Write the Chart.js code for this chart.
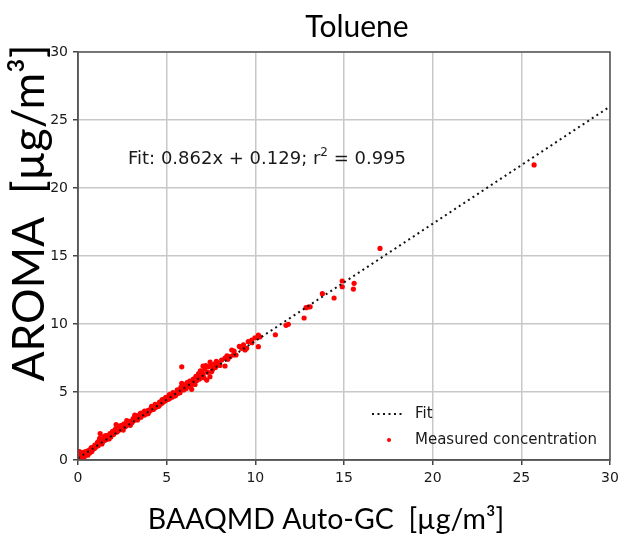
<!DOCTYPE html>
<html>
<head>
<meta charset="utf-8">
<script src="https://cdn.jsdelivr.net/npm/chart.js@4.4.1/dist/chart.umd.min.js"></script>
<style>
  html, body { margin: 0; padding: 0; background: #fff; }
  #wrap { width: 620px; height: 535px; }
</style>
</head>
<body>
<div id="wrap"><canvas id="c" width="620" height="535"></canvas></div>
<script>
// ── Data ──
const measX = [
  0.02, 0.05, 0.08, 0.10, 0.12, 0.15, 0.18, 0.22, 0.25, 0.28, 0.30, 0.35, 0.38, 0.42, 0.45, 0.50, 0.55, 0.58, 0.62, 0.66, 0.70, 0.74, 0.78, 0.82, 0.86, 0.90, 0.94, 0.98,
  1.02, 1.06, 1.10, 1.14, 1.18, 1.22, 1.25, 1.28, 1.32, 1.36, 1.40, 1.45, 1.50, 1.55, 1.60, 1.65, 1.70, 1.75, 1.80, 1.85, 1.90, 1.95, 2.00,
  2.05, 2.10, 2.15, 2.20, 2.25, 2.30, 2.35, 2.40, 2.45, 2.50, 2.55, 2.60, 2.65, 2.70, 2.75, 2.80, 2.85, 2.90, 2.95, 3.00,
  3.05, 3.10, 3.15, 3.20, 3.25, 3.30, 3.35, 3.40, 3.45, 3.50, 3.55, 3.60, 3.65, 3.70, 3.75, 3.80, 3.85, 3.90, 3.95, 4.00,
  4.05, 4.10, 4.15, 4.20, 4.25, 4.30, 4.35, 4.40, 4.45, 4.50, 4.55, 4.60, 4.65, 4.70, 4.75, 4.80, 4.85, 4.90, 4.95, 5.00, 5.05, 5.10, 5.15, 5.20, 5.25, 5.30, 5.40, 5.50, 5.55, 5.65,
  5.70, 5.75, 5.85, 5.85, 5.85, 5.95, 6.05, 6.10, 6.20, 6.25, 6.35, 6.41, 6.45, 6.55, 6.60, 6.70, 6.75, 6.85, 6.95, 7.05, 7.10,
  7.05, 7.20, 7.26, 7.30, 7.44, 7.45, 7.54, 7.60, 7.70, 7.75, 7.85, 7.91, 8.00, 8.29, 8.29, 8.45, 8.57, 8.67, 8.76, 8.91, 9.23, 9.33, 9.42, 9.51, 9.80, 9.80, 9.98, 10.17, 10.17, 10.25,
  11.13, 11.73, 11.86, 12.75, 12.86, 12.99, 13.09, 13.78, 14.44, 14.90, 14.90, 15.53, 15.57, 17.03, 25.72,
  0.15, 0.35, 0.55, 0.75, 0.95, 1.15, 1.35, 1.55, 1.75, 1.95, 2.15, 2.35, 2.55, 2.75, 2.95, 3.15, 3.35, 3.55, 3.75, 3.95,
  4.15, 4.35, 4.55, 4.75, 4.95, 5.15, 5.35, 5.45, 5.60, 5.80, 6.00, 6.15, 6.30, 6.50, 6.65, 6.80, 6.90, 7.00, 7.15, 7.35,
  7.50, 7.65, 7.80, 8.10, 8.40, 8.80, 9.10, 9.60
];
const measY = [
  0.10, 0.35, 0.62, 0.20, 0.05, 0.45, 0.28, 0.12, 0.40, 0.55, 0.30, 0.22, 0.48, 0.40, 0.62, 0.50, 0.35, 0.70, 0.60, 0.52, 0.78, 0.68, 0.62, 0.88, 0.80, 0.95, 0.86, 1.05,
  0.98, 1.12, 1.30, 1.05, 1.20, 1.60, 1.95, 1.40, 1.25, 1.52, 1.35, 1.70, 1.45, 1.62, 1.50, 1.78, 1.60, 1.72, 1.95, 1.70, 1.85, 2.05, 1.88,
  2.00, 2.25, 2.60, 2.05, 2.15, 2.45, 2.22, 2.30, 2.55, 2.35, 2.40, 2.65, 2.45, 2.50, 2.72, 2.60, 2.68, 2.85, 2.70, 2.80,
  2.75, 3.00, 2.90, 3.30, 3.05, 3.10, 3.25, 3.05, 3.20, 3.40, 3.15, 3.30, 3.45, 3.35, 3.30, 3.55, 3.40, 3.50, 3.65, 3.55,
  3.62, 3.75, 3.70, 3.85, 3.72, 3.95, 3.85, 4.00, 3.92, 4.10, 4.05, 4.25, 4.10, 4.30, 4.20, 4.40, 4.30, 4.50, 4.38, 4.55, 4.45, 4.65, 4.50, 4.60, 4.72, 4.62, 4.80, 4.75, 4.95, 4.90,
  5.05, 4.95, 5.20, 6.85, 5.64, 5.15, 5.35, 5.25, 5.45, 5.60, 5.40, 5.20, 5.65, 5.75, 5.55, 5.85, 6.00, 5.95, 6.20, 6.30, 6.05,
  6.90, 6.95, 5.88, 6.45, 6.13, 7.20, 6.50, 6.70, 7.05, 6.80, 7.15, 7.11, 6.95, 6.91, 7.50, 7.40, 7.60, 8.09, 7.72, 7.72, 8.21, 8.46, 8.09, 8.21, 8.63, 8.82, 8.99, 9.19, 8.33, 9.05,
  9.21, 9.90, 9.98, 10.44, 11.20, 11.25, 11.27, 12.23, 11.91, 13.16, 12.74, 12.57, 12.99, 15.56, 21.70,
  0.38, 0.58, 0.45, 0.92, 1.10, 1.35, 1.18, 1.80, 1.55, 2.10, 2.20, 2.50, 2.20, 2.90, 2.55, 3.10, 2.95, 3.45, 3.60, 3.40,
  3.95, 4.10, 3.95, 4.45, 4.60, 4.80, 4.95, 4.70, 5.15, 5.35, 5.50, 5.70, 5.80, 5.95, 6.15, 6.35, 6.55, 6.45, 6.70, 6.85,
  7.00, 6.95, 7.25, 7.35, 7.65, 8.00, 8.35, 8.70
];
// Fit: 0.862x + 0.129, drawn from x = 0 to 30
const fitX = [0, 30];
const fitY = [0.129, 25.989];
const tickVals = [0, 5, 10, 15, 20, 25, 30];

const TXT = '#1a1a1a';
const BIG = 'Lato, "Open Sans", sans-serif';
const SMALL = '"DejaVu Sans", sans-serif';

// titles, fit text, legend and frame drawn on top of the plot
const decor = {
  id: 'decor',
  afterDraw(chart) {
    const ctx = chart.ctx;
    const a = chart.chartArea;
    ctx.save();

    // frame
    ctx.strokeStyle = '#555';
    ctx.lineWidth = 1.5;
    ctx.strokeRect(a.left, a.top, a.right - a.left, a.bottom - a.top);

    ctx.fillStyle = '#000';
    ctx.textBaseline = 'middle';
    ctx.textAlign = 'center';

    // chart title
    ctx.font = '30px ' + BIG;
    ctx.fillText('Toluene', 357, 27);

    // x title
    ctx.font = '28.5px ' + BIG;
    ctx.fillText('BAAQMD Auto-GC  [µg/m³]', 326, 520);

    // y title
    ctx.save();
    ctx.translate(30, 213);
    ctx.rotate(-Math.PI / 2);
    ctx.font = '44.5px ' + BIG;
    ctx.fillText('AROMA  [µg/m³]', 0, 0);
    ctx.restore();

    // fit equation with superscript
    ctx.textAlign = 'left';
    ctx.textBaseline = 'alphabetic';
    ctx.fillStyle = TXT;
    ctx.font = '18px ' + SMALL;
    let x = 128;
    const base = 164;
    const p1 = 'Fit: 0.862x + 0.129; r';
    ctx.fillText(p1, x, base);
    x += ctx.measureText(p1).width;
    ctx.font = '12px ' + SMALL;
    ctx.fillText('2', x, base - 8);
    x += ctx.measureText('2').width;
    ctx.font = '18px ' + SMALL;
    ctx.fillText(' = 0.995', x, base);

    // legend
    ctx.font = '15px ' + SMALL;
    ctx.textBaseline = 'middle';
    ctx.strokeStyle = '#111';
    ctx.lineWidth = 2;
    ctx.setLineDash([2, 3.5]);
    ctx.beginPath();
    ctx.moveTo(372, 414);
    ctx.lineTo(404, 414);
    ctx.stroke();
    ctx.setLineDash([]);
    ctx.fillText('Fit', 415, 414);
    ctx.fillStyle = '#ff0000';
    ctx.beginPath();
    ctx.arc(389, 440, 2, 0, Math.PI * 2);
    ctx.fill();
    ctx.fillStyle = TXT;
    ctx.fillText('Measured concentration', 415, 440);

    ctx.restore();
  }
};

const axisCommon = {
  type: 'linear',
  min: 0,
  max: 30,
  afterBuildTicks: s => { s.ticks = tickVals.map(v => ({ value: v })); },
  grid: { color: '#c8c8c8', lineWidth: 1.5, tickLength: 5, tickColor: '#444' },
  border: { display: true, color: '#555', width: 1.5 },
  ticks: { font: { family: 'DejaVu Sans', size: 14 }, color: TXT, padding: 5 }
};

new Chart(document.getElementById('c').getContext('2d'), {
  type: 'scatter',
  data: {
    datasets: [
      {
        label: 'Fit',
        data: fitX.map((x, i) => ({ x, y: fitY[i] })),
        showLine: true,
        borderColor: '#111',
        borderWidth: 2,
        borderDash: [2, 3.5],
        pointRadius: 0,
        fill: false,
        order: 0
      },
      {
        label: 'Measured concentration',
        data: measX.map((x, i) => ({ x, y: measY[i] })),
        backgroundColor: '#ff0000',
        borderWidth: 0,
        pointRadius: 2.6,
        order: 1
      }
    ]
  },
  options: {
    responsive: false,
    animation: false,
    layout: { padding: { top: 52, right: 10, left: 0, bottom: 0 } },
    plugins: { legend: { display: false }, tooltip: { enabled: false }, title: { display: false } },
    scales: {
      x: Object.assign({}, axisCommon, {
        afterFit: s => { s.height = 75; s.paddingLeft = 0; s.paddingRight = 0; }
      }),
      y: Object.assign({}, axisCommon, {
        afterFit: s => { s.width = 78; s.paddingTop = 0; s.paddingBottom = 0; }
      })
    }
  },
  plugins: [decor]
});
</script>
</body>
</html>
